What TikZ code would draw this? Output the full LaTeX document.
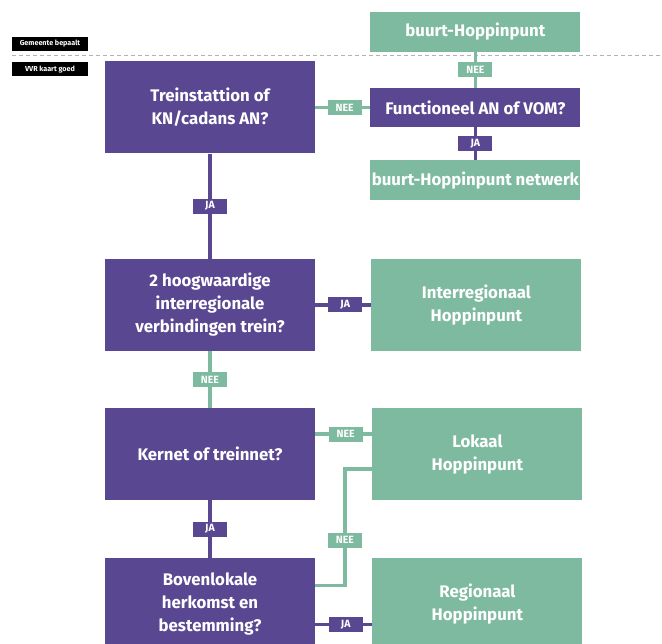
\documentclass[tikz,border=0pt]{standalone}
\usepackage{fontspec}
\setmainfont{Fira Sans}
\usetikzlibrary{positioning}
\definecolor{paars}{RGB}{90,71,146}
\definecolor{groen}{RGB}{125,186,160}
\tikzset{
  vraag/.style={rectangle, fill=paars, text=white, font=\bfseries\fontsize{16.8}{23}\selectfont, minimum width=210pt, minimum height=92pt, align=center, inner sep=0pt},
  uitkomst/.style={rectangle, fill=groen, text=white, font=\bfseries\fontsize{16.8}{23}\selectfont, minimum width=210pt, minimum height=92pt, align=center, inner sep=0pt},
  uitklein/.style={uitkomst, minimum height=40pt},
  paarslijn/.style={draw=paars, line width=3.5pt},
  groenlijn/.style={draw=groen, line width=3.5pt},
  jalbl/.style={rectangle, fill=paars, text=white, font=\bfseries\fontsize{10.5}{11}\selectfont, minimum width=34pt, minimum height=15pt, inner sep=0pt},
  neelbl/.style={jalbl, fill=groen},
  etiket/.style={rectangle, fill=black, text=white, font=\bfseries\fontsize{7.2}{8}\selectfont, minimum width=76pt, minimum height=14pt, inner sep=0pt}
}
\begin{document}
\begin{tikzpicture}[x=1pt, y=-1pt]
    \clip (0,0) rectangle (662,644);
    \fill[white] (0,0) rectangle (662,644);

    % Scheiding tussen gemeente en VVR
    \draw[gray!60, line width=1pt, dash pattern=on 4pt off 3pt] (12,56) -- (662,56);
    \node (gemeente) [etiket] at (50,44) {Gemeente bepaalt};
    \node (vvr) [etiket] at (50,69.5) {VVR kaart goed};

    % Vragen in de linkerkolom
    \node (trein) [vraag] at (210,107.5) {Treinstattion of\\KN/cadans AN?};
    \node (hoog) [vraag, below=105pt of trein] {2 hoogwaardige\\interregionale\\verbindingen trein?};
    \node (kern) [vraag, below=57pt of hoog] {Kernet of treinnet?};
    \node (boven) [vraag, below=57pt of kern] {Bovenlokale\\herkomst en\\bestemming?};

    % Rechterkolom
    \node (functie) [vraag, right=55pt of trein, minimum height=39pt] {Functioneel AN of VOM?};
    \node (buurt) [uitklein, above=36pt of functie] {buurt-Hoppinpunt};
    \node (netwerk) [uitklein, below=33pt of functie] {buurt-Hoppinpunt netwerk};
    \node (inter) [uitkomst, right=56pt of hoog] {Interregionaal\\Hoppinpunt};
    \node (lokaal) [uitkomst, right=57pt of kern] {Lokaal\\Hoppinpunt};
    \node (regio) [uitkomst, right=57pt of boven] {Regionaal\\Hoppinpunt};

    % Verbindingen met JA / NEE
    \draw[paarslijn] (trein) -- node[jalbl] {JA} (hoog);
    \draw[groenlijn] (trein) -- node[neelbl, xshift=2pt] {NEE} (functie);
    \draw[groenlijn] (functie) -- node[neelbl] {NEE} (buurt);
    \draw[paarslijn] (functie) -- node[jalbl] {JA} (netwerk);
    \draw[paarslijn] (hoog) -- node[jalbl, xshift=2pt] {JA} (inter);
    \draw[groenlijn] (hoog) -- node[neelbl] {NEE} (kern);
    \draw[groenlijn] ([yshift=-26pt]kern.north east) -- node[neelbl, xshift=2pt] {NEE} ([yshift=-26pt]lokaal.north west);
    \draw[paarslijn] (kern) -- node[jalbl] {JA} (boven);
    \draw[paarslijn] ([yshift=-67pt]boven.north east) -- node[jalbl, xshift=2pt] {JA} ([yshift=-67pt]regio.north west);

    % Terug naar lokaal
    \coordinate (knik) at (345,540);
    \draw[groenlijn] ([yshift=-28pt]boven.north east) -| (knik) |- ([yshift=-61pt]lokaal.north west);
    \node (neeknik) [neelbl] at (knik) {NEE};

\end{tikzpicture}
\end{document}
